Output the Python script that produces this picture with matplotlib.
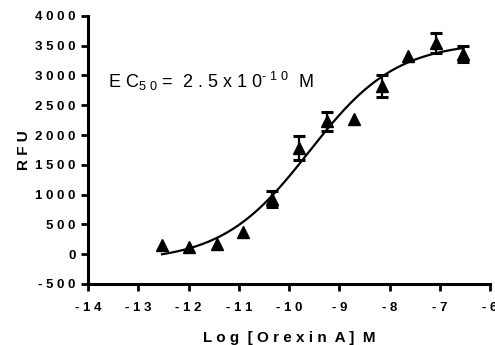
import numpy as np
import matplotlib
matplotlib.use("Agg")
import matplotlib.pyplot as plt

plt.rcParams['font.family'] = ['Liberation Sans', 'DejaVu Sans']
plt.rcParams['mathtext.default'] = 'regular'

# log [Orexin A] (M) and mean RFU
log_conc = [-12.53, -11.99, -11.43, -10.91, -10.33, -9.80, -9.24, -8.70, -8.16, -7.63, -7.07, -6.53]
rfu = [150, 117, 168, 370, 923, 1778, 2232, 2265, 2819, 3322, 3540, 3356]
sem = [0, 0, 0, 0, 130, 200, 160, 0, 185, 0, 170, 135]

# 4PL fit parameters (estimated from drawn curve)
fit_bottom = -125
fit_top = 3565
fit_logec50 = np.log10(2.5e-10)
fit_hill = 0.5

xticks = [-14, -13, -12, -11, -10, -9, -8, -7, -6]
yticks = [-500, 0, 500, 1000, 1500, 2000, 2500, 3000, 3500, 4000]


def spaced(s):
    return " ".join(str(s))


fig = plt.figure(figsize=(4.95, 3.45), dpi=100)
ax = fig.add_axes([0.178, 0.177, 0.812, 0.777])

xs = np.linspace(log_conc[0], log_conc[-1], 300)
ys = fit_bottom + (fit_top - fit_bottom) / (1 + 10 ** ((fit_logec50 - xs) * fit_hill))
ax.plot(xs, ys, color='black', lw=1.6, zorder=2)

x = np.array(log_conc)
y = np.array(rfu)
e = np.array(sem)
m = e > 0
ax.errorbar(x[m], y[m], yerr=e[m], fmt='none', ecolor='black', elinewidth=1.6,
            capsize=4.3, capthick=2.2, zorder=3)
ax.plot(x, y, '^', color='black', ms=8.5, zorder=4)

ax.set_xlim(-14, -6)
ax.set_ylim(-500, 4000)
ax.set_xticks(xticks)
ax.set_xticklabels([spaced(t) for t in xticks], fontweight='bold', fontsize=9.5)
ax.set_yticks(yticks)
ax.set_yticklabels([spaced(t) for t in yticks], fontweight='bold', fontsize=9.5)

for side in ['top', 'right']:
    ax.spines[side].set_visible(False)
for side in ['left', 'bottom']:
    ax.spines[side].set_linewidth(2.2)
ax.tick_params(axis='both', length=5, width=2.0, direction='out')
ax.tick_params(axis='x', pad=8)
ax.tick_params(axis='y', pad=4)

ax.set_xlabel("L o g  [ O r e x i n  A ]  M", fontweight='bold', fontsize=11, labelpad=12)
ax.set_ylabel("R F U", fontweight='bold', fontsize=11, labelpad=3)

ax.text(-13.6, 2785, "E C$_{5\\ 0}$ =  2 . 5 x 1 0$^{\u2010\\ 1\\ 0}$  M", fontsize=13,
        ha='left', va='baseline')

fig.savefig("out.png", dpi=100)
